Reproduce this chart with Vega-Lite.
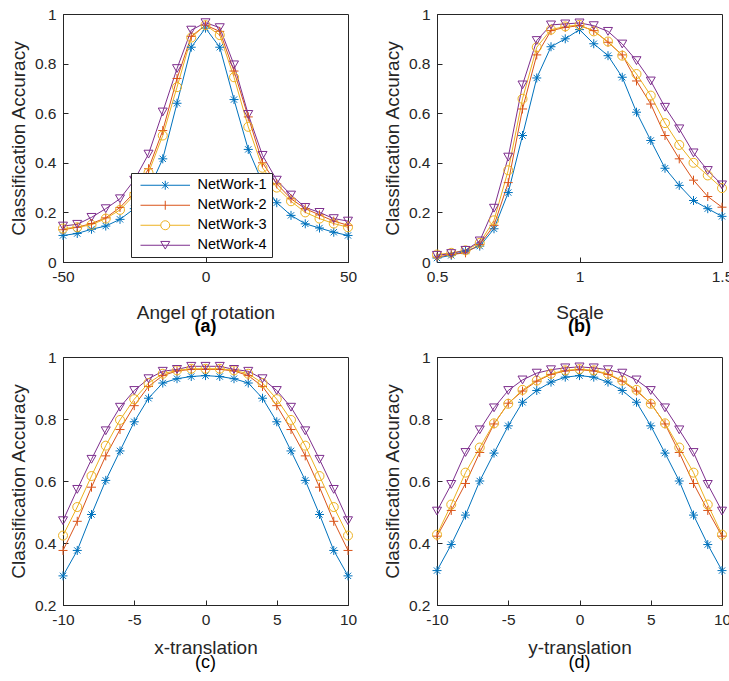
{
  "$schema": "https://vega.github.io/schema/vega-lite/v6.json",
  "padding": {"left": 8, "top": 6, "right": 0, "bottom": 0},
  "background": "white",
  "config": {
    "font": "Liberation Sans",
    "view": {"stroke": "#262626", "strokeWidth": 1},
    "axis": {"grid": false, "labelFont": "Liberation Sans", "labelFontSize": 15.5, "labelColor": "#262626", "titleFont": "Liberation Sans", "titleFontSize": 19, "titleFontWeight": "normal", "titleColor": "#262626", "domainColor": "#262626", "tickColor": "#262626", "tickSize": -5, "labelPadding": 12, "labelFlush": false, "labelExpr": "datum.value + ''"},
    "title": {"font": "Liberation Sans", "fontSize": 18, "color": "#000"}
  },
  "datasets": {
    "all": [
      {"p":"a","n":"NetWork-1","x":-50,"y":0.107},{"p":"a","n":"NetWork-1","x":-45,"y":0.115},{"p":"a","n":"NetWork-1","x":-40,"y":0.132},{"p":"a","n":"NetWork-1","x":-35,"y":0.145},{"p":"a","n":"NetWork-1","x":-30,"y":0.172},{"p":"a","n":"NetWork-1","x":-25,"y":0.215},{"p":"a","n":"NetWork-1","x":-20,"y":0.29},{"p":"a","n":"NetWork-1","x":-15,"y":0.416},{"p":"a","n":"NetWork-1","x":-10,"y":0.64},{"p":"a","n":"NetWork-1","x":-5,"y":0.866},{"p":"a","n":"NetWork-1","x":0,"y":0.943},{"p":"a","n":"NetWork-1","x":5,"y":0.866},{"p":"a","n":"NetWork-1","x":10,"y":0.655},{"p":"a","n":"NetWork-1","x":15,"y":0.454},{"p":"a","n":"NetWork-1","x":20,"y":0.32},{"p":"a","n":"NetWork-1","x":25,"y":0.239},{"p":"a","n":"NetWork-1","x":30,"y":0.188},{"p":"a","n":"NetWork-1","x":35,"y":0.154},{"p":"a","n":"NetWork-1","x":40,"y":0.137},{"p":"a","n":"NetWork-1","x":45,"y":0.12},{"p":"a","n":"NetWork-1","x":50,"y":0.107},
      {"p":"a","n":"NetWork-2","x":-50,"y":0.13},{"p":"a","n":"NetWork-2","x":-45,"y":0.14},{"p":"a","n":"NetWork-2","x":-40,"y":0.155},{"p":"a","n":"NetWork-2","x":-35,"y":0.178},{"p":"a","n":"NetWork-2","x":-30,"y":0.22},{"p":"a","n":"NetWork-2","x":-25,"y":0.28},{"p":"a","n":"NetWork-2","x":-20,"y":0.376},{"p":"a","n":"NetWork-2","x":-15,"y":0.53},{"p":"a","n":"NetWork-2","x":-10,"y":0.74},{"p":"a","n":"NetWork-2","x":-5,"y":0.91},{"p":"a","n":"NetWork-2","x":0,"y":0.955},{"p":"a","n":"NetWork-2","x":5,"y":0.93},{"p":"a","n":"NetWork-2","x":10,"y":0.77},{"p":"a","n":"NetWork-2","x":15,"y":0.585},{"p":"a","n":"NetWork-2","x":20,"y":0.4},{"p":"a","n":"NetWork-2","x":25,"y":0.315},{"p":"a","n":"NetWork-2","x":30,"y":0.255},{"p":"a","n":"NetWork-2","x":35,"y":0.215},{"p":"a","n":"NetWork-2","x":40,"y":0.19},{"p":"a","n":"NetWork-2","x":45,"y":0.165},{"p":"a","n":"NetWork-2","x":50,"y":0.148},
      {"p":"a","n":"NetWork-3","x":-50,"y":0.135},{"p":"a","n":"NetWork-3","x":-45,"y":0.14},{"p":"a","n":"NetWork-3","x":-40,"y":0.15},{"p":"a","n":"NetWork-3","x":-35,"y":0.175},{"p":"a","n":"NetWork-3","x":-30,"y":0.21},{"p":"a","n":"NetWork-3","x":-25,"y":0.27},{"p":"a","n":"NetWork-3","x":-20,"y":0.36},{"p":"a","n":"NetWork-3","x":-15,"y":0.51},{"p":"a","n":"NetWork-3","x":-10,"y":0.705},{"p":"a","n":"NetWork-3","x":-5,"y":0.905},{"p":"a","n":"NetWork-3","x":0,"y":0.955},{"p":"a","n":"NetWork-3","x":5,"y":0.915},{"p":"a","n":"NetWork-3","x":10,"y":0.745},{"p":"a","n":"NetWork-3","x":15,"y":0.545},{"p":"a","n":"NetWork-3","x":20,"y":0.38},{"p":"a","n":"NetWork-3","x":25,"y":0.3},{"p":"a","n":"NetWork-3","x":30,"y":0.245},{"p":"a","n":"NetWork-3","x":35,"y":0.2},{"p":"a","n":"NetWork-3","x":40,"y":0.175},{"p":"a","n":"NetWork-3","x":45,"y":0.155},{"p":"a","n":"NetWork-3","x":50,"y":0.14},
      {"p":"a","n":"NetWork-4","x":-50,"y":0.145},{"p":"a","n":"NetWork-4","x":-45,"y":0.152},{"p":"a","n":"NetWork-4","x":-40,"y":0.18},{"p":"a","n":"NetWork-4","x":-35,"y":0.215},{"p":"a","n":"NetWork-4","x":-30,"y":0.255},{"p":"a","n":"NetWork-4","x":-25,"y":0.33},{"p":"a","n":"NetWork-4","x":-20,"y":0.435},{"p":"a","n":"NetWork-4","x":-15,"y":0.605},{"p":"a","n":"NetWork-4","x":-10,"y":0.78},{"p":"a","n":"NetWork-4","x":-5,"y":0.935},{"p":"a","n":"NetWork-4","x":0,"y":0.965},{"p":"a","n":"NetWork-4","x":5,"y":0.945},{"p":"a","n":"NetWork-4","x":10,"y":0.795},{"p":"a","n":"NetWork-4","x":15,"y":0.595},{"p":"a","n":"NetWork-4","x":20,"y":0.43},{"p":"a","n":"NetWork-4","x":25,"y":0.33},{"p":"a","n":"NetWork-4","x":30,"y":0.27},{"p":"a","n":"NetWork-4","x":35,"y":0.22},{"p":"a","n":"NetWork-4","x":40,"y":0.2},{"p":"a","n":"NetWork-4","x":45,"y":0.175},{"p":"a","n":"NetWork-4","x":50,"y":0.165},

      {"p":"b","n":"NetWork-1","x":0.5,"y":0.016},{"p":"b","n":"NetWork-1","x":0.55,"y":0.027},{"p":"b","n":"NetWork-1","x":0.6,"y":0.044},{"p":"b","n":"NetWork-1","x":0.65,"y":0.064},{"p":"b","n":"NetWork-1","x":0.7,"y":0.134},{"p":"b","n":"NetWork-1","x":0.75,"y":0.28},{"p":"b","n":"NetWork-1","x":0.8,"y":0.51},{"p":"b","n":"NetWork-1","x":0.85,"y":0.742},{"p":"b","n":"NetWork-1","x":0.9,"y":0.868},{"p":"b","n":"NetWork-1","x":0.95,"y":0.9},{"p":"b","n":"NetWork-1","x":1.0,"y":0.937},{"p":"b","n":"NetWork-1","x":1.05,"y":0.88},{"p":"b","n":"NetWork-1","x":1.1,"y":0.832},{"p":"b","n":"NetWork-1","x":1.15,"y":0.745},{"p":"b","n":"NetWork-1","x":1.2,"y":0.604},{"p":"b","n":"NetWork-1","x":1.25,"y":0.49},{"p":"b","n":"NetWork-1","x":1.3,"y":0.378},{"p":"b","n":"NetWork-1","x":1.35,"y":0.309},{"p":"b","n":"NetWork-1","x":1.4,"y":0.248},{"p":"b","n":"NetWork-1","x":1.45,"y":0.215},{"p":"b","n":"NetWork-1","x":1.5,"y":0.184},
      {"p":"b","n":"NetWork-2","x":0.5,"y":0.02},{"p":"b","n":"NetWork-2","x":0.55,"y":0.03},{"p":"b","n":"NetWork-2","x":0.6,"y":0.037},{"p":"b","n":"NetWork-2","x":0.65,"y":0.07},{"p":"b","n":"NetWork-2","x":0.7,"y":0.148},{"p":"b","n":"NetWork-2","x":0.75,"y":0.32},{"p":"b","n":"NetWork-2","x":0.8,"y":0.617},{"p":"b","n":"NetWork-2","x":0.85,"y":0.835},{"p":"b","n":"NetWork-2","x":0.9,"y":0.933},{"p":"b","n":"NetWork-2","x":0.95,"y":0.946},{"p":"b","n":"NetWork-2","x":1.0,"y":0.953},{"p":"b","n":"NetWork-2","x":1.05,"y":0.933},{"p":"b","n":"NetWork-2","x":1.1,"y":0.886},{"p":"b","n":"NetWork-2","x":1.15,"y":0.835},{"p":"b","n":"NetWork-2","x":1.2,"y":0.73},{"p":"b","n":"NetWork-2","x":1.25,"y":0.637},{"p":"b","n":"NetWork-2","x":1.3,"y":0.51},{"p":"b","n":"NetWork-2","x":1.35,"y":0.416},{"p":"b","n":"NetWork-2","x":1.4,"y":0.33},{"p":"b","n":"NetWork-2","x":1.45,"y":0.264},{"p":"b","n":"NetWork-2","x":1.5,"y":0.221},
      {"p":"b","n":"NetWork-3","x":0.5,"y":0.03},{"p":"b","n":"NetWork-3","x":0.55,"y":0.037},{"p":"b","n":"NetWork-3","x":0.6,"y":0.047},{"p":"b","n":"NetWork-3","x":0.65,"y":0.077},{"p":"b","n":"NetWork-3","x":0.7,"y":0.168},{"p":"b","n":"NetWork-3","x":0.75,"y":0.37},{"p":"b","n":"NetWork-3","x":0.8,"y":0.658},{"p":"b","n":"NetWork-3","x":0.85,"y":0.866},{"p":"b","n":"NetWork-3","x":0.9,"y":0.937},{"p":"b","n":"NetWork-3","x":0.95,"y":0.95},{"p":"b","n":"NetWork-3","x":1.0,"y":0.956},{"p":"b","n":"NetWork-3","x":1.05,"y":0.93},{"p":"b","n":"NetWork-3","x":1.1,"y":0.889},{"p":"b","n":"NetWork-3","x":1.15,"y":0.832},{"p":"b","n":"NetWork-3","x":1.2,"y":0.758},{"p":"b","n":"NetWork-3","x":1.25,"y":0.671},{"p":"b","n":"NetWork-3","x":1.3,"y":0.56},{"p":"b","n":"NetWork-3","x":1.35,"y":0.472},{"p":"b","n":"NetWork-3","x":1.4,"y":0.4},{"p":"b","n":"NetWork-3","x":1.45,"y":0.349},{"p":"b","n":"NetWork-3","x":1.5,"y":0.298},
      {"p":"b","n":"NetWork-4","x":0.5,"y":0.027},{"p":"b","n":"NetWork-4","x":0.55,"y":0.034},{"p":"b","n":"NetWork-4","x":0.6,"y":0.047},{"p":"b","n":"NetWork-4","x":0.65,"y":0.085},{"p":"b","n":"NetWork-4","x":0.7,"y":0.217},{"p":"b","n":"NetWork-4","x":0.75,"y":0.423},{"p":"b","n":"NetWork-4","x":0.8,"y":0.714},{"p":"b","n":"NetWork-4","x":0.85,"y":0.893},{"p":"b","n":"NetWork-4","x":0.9,"y":0.956},{"p":"b","n":"NetWork-4","x":0.95,"y":0.96},{"p":"b","n":"NetWork-4","x":1.0,"y":0.964},{"p":"b","n":"NetWork-4","x":1.05,"y":0.953},{"p":"b","n":"NetWork-4","x":1.1,"y":0.93},{"p":"b","n":"NetWork-4","x":1.15,"y":0.879},{"p":"b","n":"NetWork-4","x":1.2,"y":0.812},{"p":"b","n":"NetWork-4","x":1.25,"y":0.73},{"p":"b","n":"NetWork-4","x":1.3,"y":0.624},{"p":"b","n":"NetWork-4","x":1.35,"y":0.537},{"p":"b","n":"NetWork-4","x":1.4,"y":0.44},{"p":"b","n":"NetWork-4","x":1.45,"y":0.369},{"p":"b","n":"NetWork-4","x":1.5,"y":0.311},

      {"p":"c","n":"NetWork-1","x":-10,"y":0.294},{"p":"c","n":"NetWork-1","x":-9,"y":0.376},{"p":"c","n":"NetWork-1","x":-8,"y":0.492},{"p":"c","n":"NetWork-1","x":-7,"y":0.602},{"p":"c","n":"NetWork-1","x":-6,"y":0.697},{"p":"c","n":"NetWork-1","x":-5,"y":0.791},{"p":"c","n":"NetWork-1","x":-4,"y":0.867},{"p":"c","n":"NetWork-1","x":-3,"y":0.916},{"p":"c","n":"NetWork-1","x":-2,"y":0.93},{"p":"c","n":"NetWork-1","x":-1,"y":0.937},{"p":"c","n":"NetWork-1","x":0,"y":0.94},{"p":"c","n":"NetWork-1","x":1,"y":0.937},{"p":"c","n":"NetWork-1","x":2,"y":0.93},{"p":"c","n":"NetWork-1","x":3,"y":0.916},{"p":"c","n":"NetWork-1","x":4,"y":0.867},{"p":"c","n":"NetWork-1","x":5,"y":0.791},{"p":"c","n":"NetWork-1","x":6,"y":0.697},{"p":"c","n":"NetWork-1","x":7,"y":0.602},{"p":"c","n":"NetWork-1","x":8,"y":0.492},{"p":"c","n":"NetWork-1","x":9,"y":0.376},{"p":"c","n":"NetWork-1","x":10,"y":0.294},
      {"p":"c","n":"NetWork-2","x":-10,"y":0.376},{"p":"c","n":"NetWork-2","x":-9,"y":0.47},{"p":"c","n":"NetWork-2","x":-8,"y":0.58},{"p":"c","n":"NetWork-2","x":-7,"y":0.681},{"p":"c","n":"NetWork-2","x":-6,"y":0.766},{"p":"c","n":"NetWork-2","x":-5,"y":0.843},{"p":"c","n":"NetWork-2","x":-4,"y":0.905},{"p":"c","n":"NetWork-2","x":-3,"y":0.94},{"p":"c","n":"NetWork-2","x":-2,"y":0.955},{"p":"c","n":"NetWork-2","x":-1,"y":0.96},{"p":"c","n":"NetWork-2","x":0,"y":0.96},{"p":"c","n":"NetWork-2","x":1,"y":0.96},{"p":"c","n":"NetWork-2","x":2,"y":0.955},{"p":"c","n":"NetWork-2","x":3,"y":0.94},{"p":"c","n":"NetWork-2","x":4,"y":0.905},{"p":"c","n":"NetWork-2","x":5,"y":0.843},{"p":"c","n":"NetWork-2","x":6,"y":0.766},{"p":"c","n":"NetWork-2","x":7,"y":0.681},{"p":"c","n":"NetWork-2","x":8,"y":0.58},{"p":"c","n":"NetWork-2","x":9,"y":0.47},{"p":"c","n":"NetWork-2","x":10,"y":0.376},
      {"p":"c","n":"NetWork-3","x":-10,"y":0.424},{"p":"c","n":"NetWork-3","x":-9,"y":0.516},{"p":"c","n":"NetWork-3","x":-8,"y":0.616},{"p":"c","n":"NetWork-3","x":-7,"y":0.714},{"p":"c","n":"NetWork-3","x":-6,"y":0.797},{"p":"c","n":"NetWork-3","x":-5,"y":0.864},{"p":"c","n":"NetWork-3","x":-4,"y":0.916},{"p":"c","n":"NetWork-3","x":-3,"y":0.946},{"p":"c","n":"NetWork-3","x":-2,"y":0.957},{"p":"c","n":"NetWork-3","x":-1,"y":0.962},{"p":"c","n":"NetWork-3","x":0,"y":0.962},{"p":"c","n":"NetWork-3","x":1,"y":0.962},{"p":"c","n":"NetWork-3","x":2,"y":0.957},{"p":"c","n":"NetWork-3","x":3,"y":0.946},{"p":"c","n":"NetWork-3","x":4,"y":0.916},{"p":"c","n":"NetWork-3","x":5,"y":0.864},{"p":"c","n":"NetWork-3","x":6,"y":0.797},{"p":"c","n":"NetWork-3","x":7,"y":0.714},{"p":"c","n":"NetWork-3","x":8,"y":0.616},{"p":"c","n":"NetWork-3","x":9,"y":0.516},{"p":"c","n":"NetWork-3","x":10,"y":0.424},
      {"p":"c","n":"NetWork-4","x":-10,"y":0.472},{"p":"c","n":"NetWork-4","x":-9,"y":0.573},{"p":"c","n":"NetWork-4","x":-8,"y":0.67},{"p":"c","n":"NetWork-4","x":-7,"y":0.762},{"p":"c","n":"NetWork-4","x":-6,"y":0.838},{"p":"c","n":"NetWork-4","x":-5,"y":0.892},{"p":"c","n":"NetWork-4","x":-4,"y":0.93},{"p":"c","n":"NetWork-4","x":-3,"y":0.954},{"p":"c","n":"NetWork-4","x":-2,"y":0.96},{"p":"c","n":"NetWork-4","x":-1,"y":0.97},{"p":"c","n":"NetWork-4","x":0,"y":0.97},{"p":"c","n":"NetWork-4","x":1,"y":0.97},{"p":"c","n":"NetWork-4","x":2,"y":0.96},{"p":"c","n":"NetWork-4","x":3,"y":0.954},{"p":"c","n":"NetWork-4","x":4,"y":0.93},{"p":"c","n":"NetWork-4","x":5,"y":0.892},{"p":"c","n":"NetWork-4","x":6,"y":0.838},{"p":"c","n":"NetWork-4","x":7,"y":0.762},{"p":"c","n":"NetWork-4","x":8,"y":0.67},{"p":"c","n":"NetWork-4","x":9,"y":0.573},{"p":"c","n":"NetWork-4","x":10,"y":0.472},

      {"p":"d","n":"NetWork-1","x":-10,"y":0.311},{"p":"d","n":"NetWork-1","x":-9,"y":0.395},{"p":"d","n":"NetWork-1","x":-8,"y":0.49},{"p":"d","n":"NetWork-1","x":-7,"y":0.6},{"p":"d","n":"NetWork-1","x":-6,"y":0.69},{"p":"d","n":"NetWork-1","x":-5,"y":0.778},{"p":"d","n":"NetWork-1","x":-4,"y":0.854},{"p":"d","n":"NetWork-1","x":-3,"y":0.892},{"p":"d","n":"NetWork-1","x":-2,"y":0.919},{"p":"d","n":"NetWork-1","x":-1,"y":0.935},{"p":"d","n":"NetWork-1","x":0,"y":0.94},{"p":"d","n":"NetWork-1","x":1,"y":0.935},{"p":"d","n":"NetWork-1","x":2,"y":0.919},{"p":"d","n":"NetWork-1","x":3,"y":0.892},{"p":"d","n":"NetWork-1","x":4,"y":0.854},{"p":"d","n":"NetWork-1","x":5,"y":0.778},{"p":"d","n":"NetWork-1","x":6,"y":0.69},{"p":"d","n":"NetWork-1","x":7,"y":0.6},{"p":"d","n":"NetWork-1","x":8,"y":0.49},{"p":"d","n":"NetWork-1","x":9,"y":0.395},{"p":"d","n":"NetWork-1","x":10,"y":0.311},
      {"p":"d","n":"NetWork-2","x":-10,"y":0.422},{"p":"d","n":"NetWork-2","x":-9,"y":0.505},{"p":"d","n":"NetWork-2","x":-8,"y":0.592},{"p":"d","n":"NetWork-2","x":-7,"y":0.692},{"p":"d","n":"NetWork-2","x":-6,"y":0.784},{"p":"d","n":"NetWork-2","x":-5,"y":0.851},{"p":"d","n":"NetWork-2","x":-4,"y":0.89},{"p":"d","n":"NetWork-2","x":-3,"y":0.922},{"p":"d","n":"NetWork-2","x":-2,"y":0.944},{"p":"d","n":"NetWork-2","x":-1,"y":0.955},{"p":"d","n":"NetWork-2","x":0,"y":0.959},{"p":"d","n":"NetWork-2","x":1,"y":0.955},{"p":"d","n":"NetWork-2","x":2,"y":0.944},{"p":"d","n":"NetWork-2","x":3,"y":0.922},{"p":"d","n":"NetWork-2","x":4,"y":0.89},{"p":"d","n":"NetWork-2","x":5,"y":0.851},{"p":"d","n":"NetWork-2","x":6,"y":0.784},{"p":"d","n":"NetWork-2","x":7,"y":0.692},{"p":"d","n":"NetWork-2","x":8,"y":0.592},{"p":"d","n":"NetWork-2","x":9,"y":0.505},{"p":"d","n":"NetWork-2","x":10,"y":0.422},
      {"p":"d","n":"NetWork-3","x":-10,"y":0.427},{"p":"d","n":"NetWork-3","x":-9,"y":0.524},{"p":"d","n":"NetWork-3","x":-8,"y":0.627},{"p":"d","n":"NetWork-3","x":-7,"y":0.708},{"p":"d","n":"NetWork-3","x":-6,"y":0.786},{"p":"d","n":"NetWork-3","x":-5,"y":0.849},{"p":"d","n":"NetWork-3","x":-4,"y":0.894},{"p":"d","n":"NetWork-3","x":-3,"y":0.924},{"p":"d","n":"NetWork-3","x":-2,"y":0.946},{"p":"d","n":"NetWork-3","x":-1,"y":0.957},{"p":"d","n":"NetWork-3","x":0,"y":0.961},{"p":"d","n":"NetWork-3","x":1,"y":0.957},{"p":"d","n":"NetWork-3","x":2,"y":0.946},{"p":"d","n":"NetWork-3","x":3,"y":0.924},{"p":"d","n":"NetWork-3","x":4,"y":0.894},{"p":"d","n":"NetWork-3","x":5,"y":0.849},{"p":"d","n":"NetWork-3","x":6,"y":0.786},{"p":"d","n":"NetWork-3","x":7,"y":0.708},{"p":"d","n":"NetWork-3","x":8,"y":0.627},{"p":"d","n":"NetWork-3","x":9,"y":0.524},{"p":"d","n":"NetWork-3","x":10,"y":0.427},
      {"p":"d","n":"NetWork-4","x":-10,"y":0.503},{"p":"d","n":"NetWork-4","x":-9,"y":0.589},{"p":"d","n":"NetWork-4","x":-8,"y":0.692},{"p":"d","n":"NetWork-4","x":-7,"y":0.765},{"p":"d","n":"NetWork-4","x":-6,"y":0.836},{"p":"d","n":"NetWork-4","x":-5,"y":0.892},{"p":"d","n":"NetWork-4","x":-4,"y":0.926},{"p":"d","n":"NetWork-4","x":-3,"y":0.948},{"p":"d","n":"NetWork-4","x":-2,"y":0.959},{"p":"d","n":"NetWork-4","x":-1,"y":0.965},{"p":"d","n":"NetWork-4","x":0,"y":0.968},{"p":"d","n":"NetWork-4","x":1,"y":0.965},{"p":"d","n":"NetWork-4","x":2,"y":0.959},{"p":"d","n":"NetWork-4","x":3,"y":0.948},{"p":"d","n":"NetWork-4","x":4,"y":0.926},{"p":"d","n":"NetWork-4","x":5,"y":0.892},{"p":"d","n":"NetWork-4","x":6,"y":0.836},{"p":"d","n":"NetWork-4","x":7,"y":0.765},{"p":"d","n":"NetWork-4","x":8,"y":0.692},{"p":"d","n":"NetWork-4","x":9,"y":0.589},{"p":"d","n":"NetWork-4","x":10,"y":0.503}
    ]
  },
  "data": {"name": "all"},
  "columns": 2,
  "spacing": {"row": 13, "column": 24},
  "resolve": {"scale": {"color": "independent", "shape": "independent", "stroke": "independent"}, "legend": {"color": "independent", "shape": "independent", "stroke": "independent"}},
  "concat": [
    {
      "width": 285, "height": 248,
      "title": {"text": "(a)", "orient": "bottom", "fontWeight": "bold", "offset": -5},
      "transform": [{"filter": "datum.p === 'a'"}],
      "resolve": {"scale": {"shape": "independent", "stroke": "independent"}, "legend": {"shape": "independent", "stroke": "independent"}},
      "encoding": {
        "x": {"field": "x", "type": "quantitative", "scale": {"domain": [-50, 50], "nice": false, "zero": false}, "axis": {"values": [-50, 0, 50], "title": "Angel of rotation", "titlePadding": 19}},
        "y": {"field": "y", "type": "quantitative", "scale": {"domain": [0, 1], "nice": false}, "axis": {"values": [0, 0.2, 0.4, 0.6, 0.8, 1], "title": "Classification Accuracy", "titlePadding": 6}}
      },
      "layer": [
        {"mark": {"type": "line", "strokeWidth": 1},
         "encoding": {"color": {"field": "n", "type": "nominal", "scale": {"domain": ["NetWork-1", "NetWork-2", "NetWork-3", "NetWork-4"], "range": ["#0072BD", "#D95319", "#EDB120", "#7E2F8E"]}, "legend": null}}},
        {"mark": {"type": "point", "filled": false, "strokeWidth": 1, "size": 81, "opacity": 1},
         "encoding": {
           "color": {"field": "n", "type": "nominal", "scale": {"domain": ["NetWork-1", "NetWork-2", "NetWork-3", "NetWork-4"], "range": ["#0072BD", "#D95319", "#EDB120", "#7E2F8E"]}, "legend": null},
           "shape": {"field": "n", "type": "nominal", "scale": {"domain": ["NetWork-1", "NetWork-2", "NetWork-3", "NetWork-4"], "range": ["M-1,0L1,0M0,-1L0,1M-0.7,-0.7L0.7,0.7M-0.7,0.7L0.7,-0.7", "M-1,0L1,0M0,-1L0,1", "circle", "triangle-down"]}, "legend": null}}},
        {"transform": [{"filter": "false"}],
         "mark": {"type": "point", "filled": false, "strokeWidth": 1, "size": 81, "opacity": 1},
         "encoding": {
           "stroke": {"field": "n", "type": "nominal", "scale": {"domain": ["NetWork-1", "NetWork-2", "NetWork-3", "NetWork-4"], "range": ["#0072BD", "#D95319", "#EDB120", "#7E2F8E"]},
             "legend": {"orient": "none", "legendX": 68, "legendY": 159, "title": null, "strokeColor": "#262626", "fillColor": "white", "padding": 5, "rowPadding": 5, "symbolSize": 81, "symbolStrokeWidth": 1, "symbolOffset": 22, "labelOffset": 25, "labelFontSize": 14.5, "labelFont": "Liberation Sans", "labelColor": "#000", "offset": 0}},
           "shape": {"field": "n", "type": "nominal", "scale": {"domain": ["NetWork-1", "NetWork-2", "NetWork-3", "NetWork-4"], "range": ["M-5.5,0L5.5,0M0,-1L0,1M-0.7,-0.7L0.7,0.7M-0.7,0.7L0.7,-0.7", "M-5.5,0L5.5,0M0,-1L0,1", "M-5.5,0L-1,0M1,0L5.5,0M1,0A1,1 0 1,1 -1,0A1,1 0 1,1 1,0Z", "M-5.5,0L5.5,0M-1,-0.85L1,-0.85L0,0.85Z"]},
             "legend": {"orient": "none", "legendX": 68, "legendY": 159, "title": null, "strokeColor": "#262626", "fillColor": "white", "padding": 5, "rowPadding": 5, "symbolSize": 81, "symbolStrokeWidth": 1, "symbolOffset": 22, "labelOffset": 25, "labelFontSize": 14.5, "labelFont": "Liberation Sans", "labelColor": "#000", "offset": 0}}}}
      ]
    },
    {
      "width": 285, "height": 248,
      "title": {"text": "(b)", "orient": "bottom", "fontWeight": "bold", "offset": -5},
      "transform": [{"filter": "datum.p === 'b'"}],
      "encoding": {
        "x": {"field": "x", "type": "quantitative", "scale": {"domain": [0.5, 1.5], "nice": false, "zero": false}, "axis": {"values": [0.5, 1, 1.5], "title": "Scale", "titlePadding": 19}},
        "y": {"field": "y", "type": "quantitative", "scale": {"domain": [0, 1], "nice": false}, "axis": {"values": [0, 0.2, 0.4, 0.6, 0.8, 1], "title": "Classification Accuracy", "titlePadding": 6}},
        "color": {"field": "n", "type": "nominal", "scale": {"domain": ["NetWork-1", "NetWork-2", "NetWork-3", "NetWork-4"], "range": ["#0072BD", "#D95319", "#EDB120", "#7E2F8E"]}, "legend": null}
      },
      "layer": [
        {"mark": {"type": "line", "strokeWidth": 1}},
        {"mark": {"type": "point", "filled": false, "strokeWidth": 1, "size": 81, "opacity": 1},
         "encoding": {"shape": {"field": "n", "type": "nominal", "scale": {"domain": ["NetWork-1", "NetWork-2", "NetWork-3", "NetWork-4"], "range": ["M-1,0L1,0M0,-1L0,1M-0.7,-0.7L0.7,0.7M-0.7,0.7L0.7,-0.7", "M-1,0L1,0M0,-1L0,1", "circle", "triangle-down"]}, "legend": null}}}
      ]
    },
    {
      "width": 285, "height": 248,
      "title": {"text": "(c)", "orient": "bottom", "fontWeight": "normal", "offset": -4},
      "transform": [{"filter": "datum.p === 'c'"}],
      "encoding": {
        "x": {"field": "x", "type": "quantitative", "scale": {"domain": [-10, 10], "nice": false, "zero": false}, "axis": {"values": [-10, -5, 0, 5, 10], "title": "x-translation", "titlePadding": 11}},
        "y": {"field": "y", "type": "quantitative", "scale": {"domain": [0.2, 1], "nice": false, "zero": false}, "axis": {"values": [0.2, 0.4, 0.6, 0.8, 1], "title": "Classification Accuracy", "titlePadding": 6}},
        "color": {"field": "n", "type": "nominal", "scale": {"domain": ["NetWork-1", "NetWork-2", "NetWork-3", "NetWork-4"], "range": ["#0072BD", "#D95319", "#EDB120", "#7E2F8E"]}, "legend": null}
      },
      "layer": [
        {"mark": {"type": "line", "strokeWidth": 1}},
        {"mark": {"type": "point", "filled": false, "strokeWidth": 1, "size": 81, "opacity": 1},
         "encoding": {"shape": {"field": "n", "type": "nominal", "scale": {"domain": ["NetWork-1", "NetWork-2", "NetWork-3", "NetWork-4"], "range": ["M-1,0L1,0M0,-1L0,1M-0.7,-0.7L0.7,0.7M-0.7,0.7L0.7,-0.7", "M-1,0L1,0M0,-1L0,1", "circle", "triangle-down"]}, "legend": null}}}
      ]
    },
    {
      "width": 285, "height": 248,
      "title": {"text": "(d)", "orient": "bottom", "fontWeight": "normal", "offset": -4},
      "transform": [{"filter": "datum.p === 'd'"}],
      "encoding": {
        "x": {"field": "x", "type": "quantitative", "scale": {"domain": [-10, 10], "nice": false, "zero": false}, "axis": {"values": [-10, -5, 0, 5, 10], "title": "y-translation", "titlePadding": 11}},
        "y": {"field": "y", "type": "quantitative", "scale": {"domain": [0.2, 1], "nice": false, "zero": false}, "axis": {"values": [0.2, 0.4, 0.6, 0.8, 1], "title": "Classification Accuracy", "titlePadding": 6}},
        "color": {"field": "n", "type": "nominal", "scale": {"domain": ["NetWork-1", "NetWork-2", "NetWork-3", "NetWork-4"], "range": ["#0072BD", "#D95319", "#EDB120", "#7E2F8E"]}, "legend": null}
      },
      "layer": [
        {"mark": {"type": "line", "strokeWidth": 1}},
        {"mark": {"type": "point", "filled": false, "strokeWidth": 1, "size": 81, "opacity": 1},
         "encoding": {"shape": {"field": "n", "type": "nominal", "scale": {"domain": ["NetWork-1", "NetWork-2", "NetWork-3", "NetWork-4"], "range": ["M-1,0L1,0M0,-1L0,1M-0.7,-0.7L0.7,0.7M-0.7,0.7L0.7,-0.7", "M-1,0L1,0M0,-1L0,1", "circle", "triangle-down"]}, "legend": null}}}
      ]
    }
  ]
}
